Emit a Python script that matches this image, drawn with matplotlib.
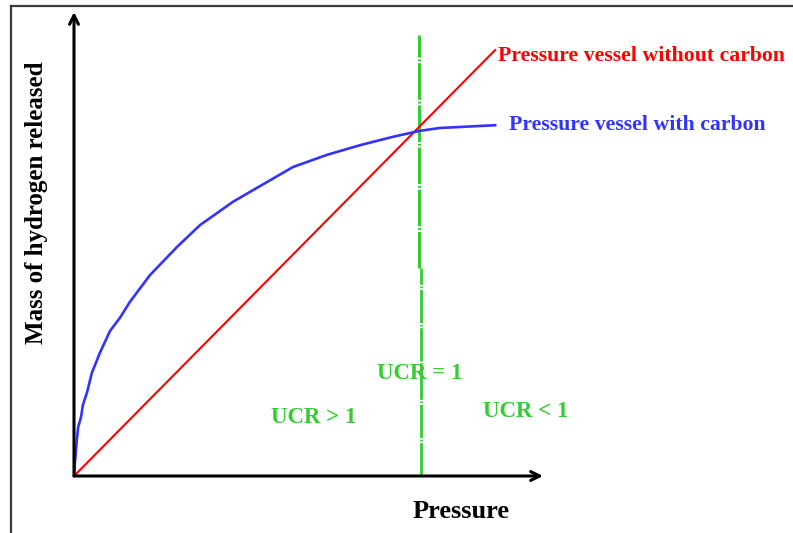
import matplotlib.pyplot as plt
from matplotlib.lines import Line2D

# pressure / mass, arbitrary units (0..1 = axis length)
with_carbon_x = [0, 0.002, 0.006, 0.009, 0.015, 0.019, 0.028, 0.038, 0.055, 0.077,
                 0.098, 0.119, 0.162, 0.220, 0.269, 0.339, 0.397, 0.467, 0.539,
                 0.610, 0.680, 0.738, 0.780, 0.898]
with_carbon_y = [0, 0.028, 0.078, 0.106, 0.127, 0.153, 0.181, 0.222, 0.265, 0.313,
                 0.341, 0.375, 0.433, 0.494, 0.541, 0.591, 0.625, 0.666, 0.692,
                 0.713, 0.731, 0.744, 0.750, 0.756]
without_carbon_x = [0, 0.898]
without_carbon_y = [0, 0.918]
ucr1_upper_x = [0.736, 0.736]
ucr1_upper_y = [0.448, 0.950]
ucr1_lower_x = [0.740, 0.740]
ucr1_lower_y = [0.0, 0.448]

W, H = 793, 533
fig = plt.figure(figsize=(W / 100, H / 100), dpi=100)
ax = fig.add_axes([74 / W, (H - 476) / H, 469 / W, 464 / H])
ax.set_xlim(0, 1)
ax.set_ylim(0, 1)
ax.axis('off')

serif = ['Liberation Serif', 'DejaVu Serif']

ax.plot(ucr1_upper_x, ucr1_upper_y, color='#33cc33', lw=2.2,
        linestyle=(0, (12, 0.6, 0.6, 0.6)), solid_capstyle='butt')
ax.plot(ucr1_lower_x, ucr1_lower_y, color='#33cc33', lw=2.0,
        linestyle=(0, (12, 0.6, 0.6, 0.6)), solid_capstyle='butt')
ax.plot(without_carbon_x, without_carbon_y, color='#ff0000', lw=1.5)
ax.plot(with_carbon_x, with_carbon_y, color='#3333ff', lw=1.9)

# axes with open arrow heads
ax.annotate('', xy=(1, 0), xytext=(0, 0), xycoords='axes fraction',
            arrowprops=dict(arrowstyle='->', color='black', lw=2.2,
                            mutation_scale=16, shrinkA=0, shrinkB=0))
ax.annotate('', xy=(0, 1), xytext=(0, 0), xycoords='axes fraction',
            arrowprops=dict(arrowstyle='->', color='black', lw=2.2,
                            mutation_scale=16, shrinkA=0, shrinkB=0))

ax.text(0.905, 0.906, 'Pressure vessel without carbon', color='#ff0000',
        fontsize=15.7, fontweight='bold', family=serif, va='center', ha='left')
ax.text(0.928, 0.757, 'Pressure vessel with carbon', color='#3333ff',
        fontsize=15.7, fontweight='bold', family=serif, va='center', ha='left')
ax.text(0.646, 0.220, 'UCR = 1', color='#33cc33', fontsize=16.5,
        fontweight='bold', family=serif, va='center', ha='left')
ax.text(0.420, 0.127, 'UCR > 1', color='#33cc33', fontsize=16.5,
        fontweight='bold', family=serif, va='center', ha='left')
ax.text(0.872, 0.138, 'UCR < 1', color='#33cc33', fontsize=16.5,
        fontweight='bold', family=serif, va='center', ha='left')

fig.text(461 / W, 1 - 512 / H, 'Pressure', fontsize=19, fontweight='bold',
         family=serif, ha='center', va='center')
fig.text(37 / W, 1 - 203 / H, 'Mass of hydrogen released', fontsize=18,
         fontweight='bold', family=serif, ha='center', va='center', rotation=90)

# frame remnant at top and left of the image
fig.add_artist(Line2D([11 / W, 1], [1 - 6 / H, 1 - 6 / H], color='#3a3a3a', lw=1.6))
fig.add_artist(Line2D([11 / W, 11 / W], [0, 1 - 6 / H], color='#3a3a3a', lw=1.6))

fig.savefig('out.png', dpi=100)
